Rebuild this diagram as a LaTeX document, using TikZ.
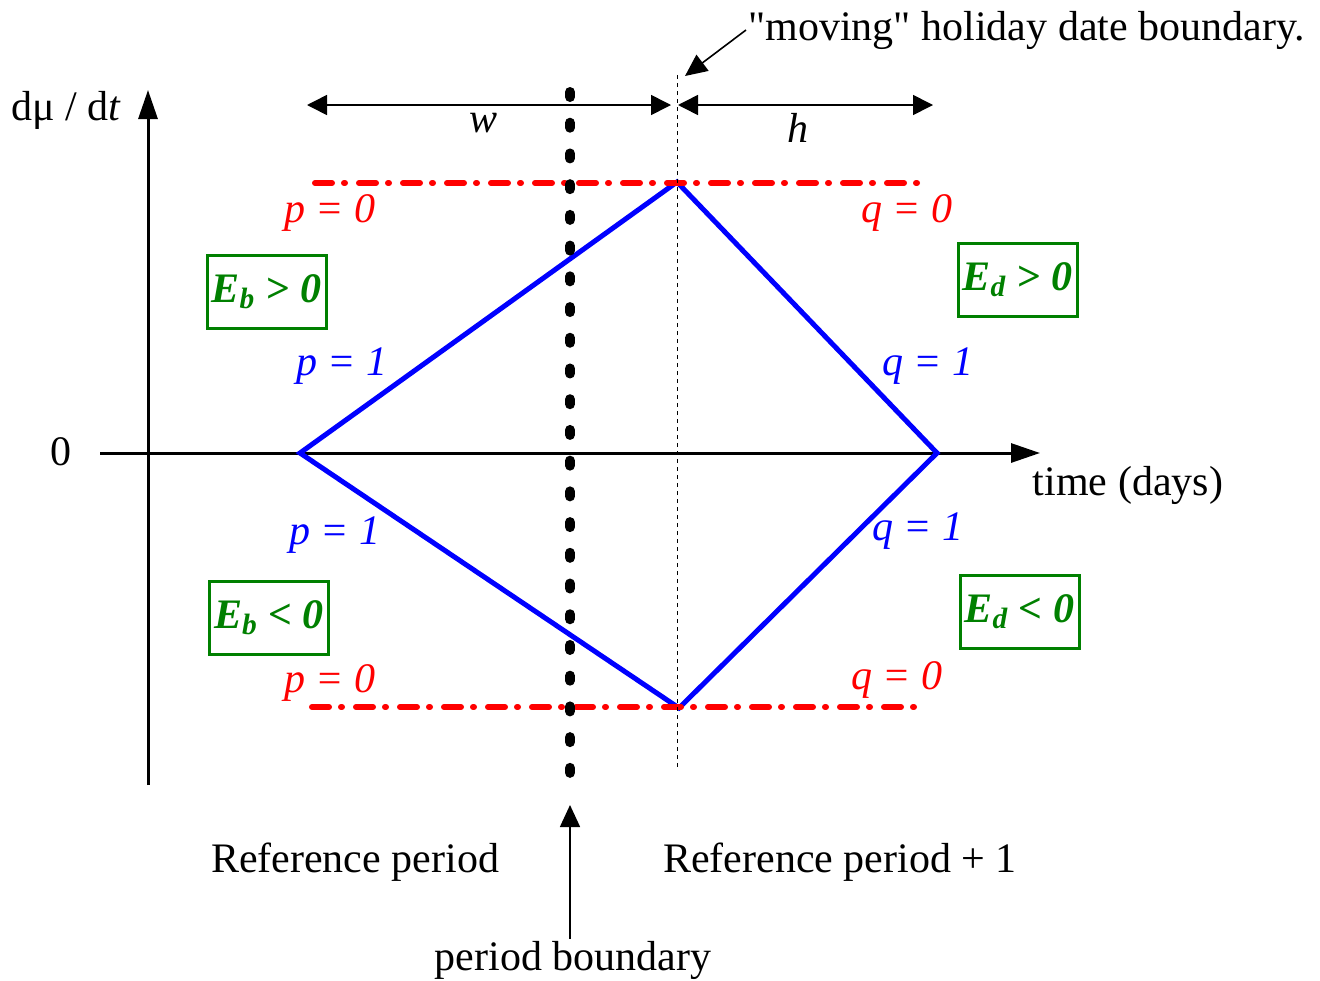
\documentclass[tikz,border=0pt]{standalone}
\usepackage{fontspec}
\setmainfont{Liberation Serif}
\newfontfamily\plainquote{Liberation Serif}
\usepackage{tikz}
\usetikzlibrary{arrows.meta, positioning, calc}
\definecolor{myred}{RGB}{255,0,0}
\definecolor{myblue}{RGB}{0,0,255}
\definecolor{mygreen}{RGB}{0,128,0}
\tikzset{
  axis/.style={-{Triangle[length=14.5pt, width=9.5pt]}, line width=1.5pt},
  dimarrow/.style={{Triangle[length=10pt, width=10pt]}-{Triangle[length=10pt, width=10pt]}, line width=0.8pt},
  annot/.style={-{Triangle[length=11pt, width=10pt]}, line width=0.8pt},
  curve/.style={draw=myblue, line width=2.5pt},
  bound/.style={draw=myred, line width=3pt, line cap=round,
    dash pattern=on 8.5pt off 6pt on 0.5pt off 7pt},
  pbline/.style={line width=5pt, line cap=round, dash pattern=on 2.5pt off 12.86pt},
  hline/.style={line width=0.5pt, dash pattern=on 2pt off 2pt},
  elabel/.style={rectangle, draw=mygreen, line width=1.5pt, text=mygreen,
    minimum width=59.5pt, minimum height=36.5pt, inner sep=0pt,
    font=\fontsize{21}{25}\selectfont\bfseries\itshape},
  redlbl/.style={text=myred, font=\fontsize{21}{25}\selectfont\itshape},
  bluelbl/.style={text=myblue, font=\fontsize{21}{25}\selectfont\itshape},
  txt/.style={inner sep=1pt}
}

\begin{document}
\begin{tikzpicture}[x=0.5pt, y=-0.5pt, font=\fontsize{21}{25}\selectfont]
  \useasboundingbox (0,0) rectangle (1320,980);

  % Axes
  \coordinate (ybot) at (148,785);
  \coordinate (ytop) at (148,90);
  \coordinate (xleft) at (100,453);
  \coordinate (xright) at (1040,453);
  \draw[axis] (ybot) -- (ytop);
  \draw[axis] (xleft) -- (xright);
  \node[txt] (ylab) at (66,110) {dμ / d\textit{t}};
  \node[txt] (zero) at (61,452) {0};
  \node[txt] (xlab) at (1128,485) {time (days)};

  % Diamond
  \coordinate (dleft) at (300,453);
  \coordinate (dtop) at (677,182);
  \coordinate (dright) at (937,453);
  \coordinate (dbot) at (679,708);
  \draw[curve] (dleft) -- (dtop) -- (dright) -- (dbot) -- cycle;

  % Bounds p = 0, q = 0
  \coordinate (ub1) at (315,183);
  \coordinate (ub2) at (920,183);
  \coordinate (lb1) at (312,707);
  \coordinate (lb2) at (925,707);
  \draw[bound] (ub1) -- (ub2);
  \draw[bound] (lb1) -- (lb2);

  % Boundaries
  \coordinate (pbtop) at (570,92);
  \coordinate (pbbot) at (570,773);
  \draw[pbline] (pbtop) -- (pbbot);
  \coordinate (hbtop) at (677,75);
  \coordinate (hbbot) at (677,770);
  \draw[hline] (hbtop) -- (hbbot);

  % Widths w and h
  \coordinate (w1) at (307,105);
  \coordinate (w2) at (671,105);
  \coordinate (h1) at (678,105);
  \coordinate (h2) at (933,105);
  \draw[dimarrow] (w1) -- (w2);
  \draw[dimarrow] (h1) -- (h2);
  \node[txt, font=\fontsize{21}{25}\selectfont\itshape] (wlab) at (483,123) {w};
  \node[txt, font=\fontsize{21}{25}\selectfont\itshape] (hlab) at (798,128) {h};

  \node[txt, anchor=west] (moving) at (746,30) {{\plainquote"}moving{\plainquote"} holiday date boundary.};
  \coordinate (mtip) at (685,76);
  \draw[annot] (moving.west) -- (mtip);

  % Labels
  \node[redlbl] (p0u) at (330,213) {p = 0};
  \node[redlbl] (q0u) at (907,213) {q = 0};
  \node[bluelbl] (p1u) at (342,366) {p = 1};
  \node[bluelbl] (q1u) at (928,366) {q = 1};
  \node[bluelbl] (p1l) at (335,535) {p = 1};
  \node[bluelbl] (q1l) at (918,531) {q = 1};
  \node[redlbl] (p0l) at (330,683) {p = 0};
  \node[redlbl] (q0l) at (897,680) {q = 0};

  \node[elabel] (ebpos) at (266.5,291.5) {E\textsubscript{b} > 0};
  \node[elabel] (edpos) at (1017.5,280) {E\textsubscript{d} > 0};
  \node[elabel] (ebneg) at (269,618) {E\textsubscript{b} < 0};
  \node[elabel] (edneg) at (1019.5,612) {E\textsubscript{d} < 0};

  % Periods
  \node[txt] (refp) at (355,862) {Reference period};
  \node[txt] (refp1) at (840,862) {Reference period + 1};
  \node[txt] (pb) at (573,960) {period boundary};
  \coordinate (pbtip) at (570,805);
  \draw[annot] (pb.north -| pbtip) -- (pbtip);
\end{tikzpicture}
\end{document}
